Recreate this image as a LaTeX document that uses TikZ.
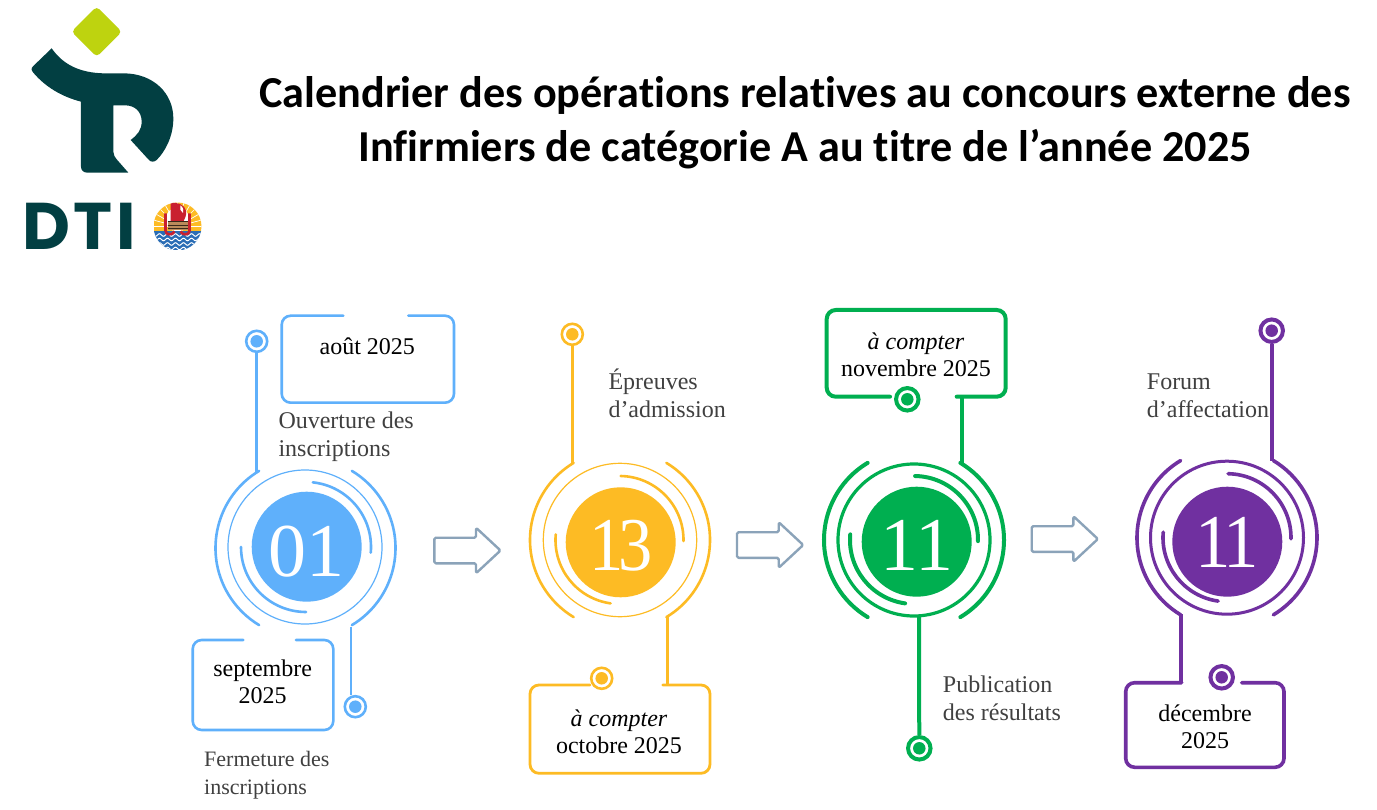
\documentclass[tikz,border=0pt]{standalone}
\usepackage{fontspec}
\setmainfont{Liberation Serif}
\newfontfamily\titlefont[Ligatures=NoCommon]{Carlito}
\newfontfamily\logofont{Poppins}
\usetikzlibrary{calc}
\definecolor{cblue}{HTML}{5FB0FB}
\definecolor{cyellow}{HTML}{FDBB24}
\definecolor{cgreen}{HTML}{00AF50}
\definecolor{cpurple}{HTML}{7030A0}
\definecolor{carrow}{HTML}{8BA3B9}
\definecolor{cteal}{HTML}{023F42}
\definecolor{clime}{HTML}{BED30F}
\definecolor{ctext}{HTML}{404040}
\definecolor{ered}{HTML}{C9202F}
\definecolor{eblue}{HTML}{2A6DB5}
\definecolor{etan}{HTML}{B98A5A}
\tikzset{
  lbl/.style={font=\fontsize{24}{27.7}\selectfont,text=ctext,align=left,inner sep=0pt,anchor=west},
  lblsm/.style={lbl,font=\fontsize{22}{27.7}\selectfont},
  boxtxt/.style={font=\fontsize{24}{26.8}\selectfont,text=black,align=center,inner sep=0pt},
  numtxt/.style={font=\fontsize{76}{76}\selectfont,text=white,inner sep=0pt,anchor=base},
  dotc/.style={circle,draw=#1,fill=white,inner sep=0pt,minimum size=21pt},
  dotl/.style={circle,draw=#1,fill=white,inner sep=0pt,minimum size=22.5pt},
  doti/.style={circle,fill=#1,inner sep=0pt,minimum size=12.5pt},
  disc/.style={circle,fill=#1,inner sep=0pt,minimum size=110pt},
  blockarrow/.style={draw=carrow,line width=2.4pt,fill=white,rounded corners=1.5pt,line join=round},
}
% top gap box: colour/width, x0,y0,x1,y1, gapL,gapR
\newcommand{\boxtopgap}[7]{\draw[#1,rounded corners=9pt,line cap=round] (#6,#3) -- (#2,#3) -- (#2,#5) -- (#4,#5) -- (#4,#3) -- (#7,#3);}
\newcommand{\boxbotgap}[7]{\draw[#1,rounded corners=9pt,line cap=round] (#6,#5) -- (#2,#5) -- (#2,#3) -- (#4,#3) -- (#4,#5) -- (#7,#5);}
% arc: style, cx, cy, r, a1, a2
\newcommand{\garc}[6]{\draw[#1,line cap=round] ([shift={(#2,#3)}]#5:#4pt) arc[start angle=#5,end angle=#6,radius=#4pt];}
% block arrow: x, yc
\newcommand{\blockarr}[2]{\draw[blockarrow] ($(#1,#2)+(0,-12.8)$) -- ($(#1,#2)+(41.7,-12.8)$) -- ($(#1,#2)+(41.7,-22.8)$) -- ($(#1,#2)+(66.2,0)$) -- ($(#1,#2)+(41.7,22.8)$) -- ($(#1,#2)+(41.7,12.8)$) -- ($(#1,#2)+(0,12.8)$) -- cycle;}
\begin{document}
\begin{tikzpicture}[x=1pt,y=-1pt]
\useasboundingbox[fill=white] (0,0) rectangle (1377,810);

% ---------- Logo ----------
\begin{scope}[x=0.33333pt,y=-0.33333pt]
\fill[cteal] (155,145) .. controls (190,195) and (240,218) .. (310,220) -- (370,220)
  .. controls (460,220) and (520,280) .. (520,355)
  .. controls (520,410) and (495,455) .. (470,480)
  .. controls (462,487) and (452,487) .. (445,478)
  -- (392,420) .. controls (412,405) and (425,390) .. (425,365)
  .. controls (425,335) and (405,316) .. (375,316) -- (340,316) -- (340,455)
  .. controls (340,465) and (345,472) .. (350,478) -- (385,518) -- (262,518)
  .. controls (250,518) and (243,510) .. (243,500) -- (243,305)
  .. controls (185,290) and (135,260) .. (100,218)
  .. controls (93,210) and (93,205) .. (100,198) -- cycle;
\end{scope}
\fill[clime,rounded corners=4pt] (96.7,6.5) -- (121.9,31.7) -- (96.7,56.9) -- (71.5,31.7) -- cycle;
\node[inner sep=0pt,anchor=base west,text=cteal,font=\logofont\bfseries\fontsize{66}{66}\selectfont] (dti) at (22,249.3) {D\kern3.5pt T\kern3.5pt I};

% ---------- Emblem ----------
\begin{scope}[shift={(177.5,226.5)}]
  \clip (0,0) circle[radius=24pt];
  \fill[cyellow] (-24,-24) rectangle (24,5);
  \foreach \a in {0,15,...,180} {\draw[white,line width=0.7pt] (\a:8pt) -- (\a:25pt);}
  \fill[white] (0,-7) circle[radius=12pt];
  \fill[eblue] (-24,5) rectangle (24,24);
  \foreach \yy in {8.5,13,17.5,22} {
    \draw[white,line width=1pt] plot[domain=-24:24,samples=49] (\x,{\yy+1.3*sin(\x*45)});
  }
  \fill[ered] (-7,-23.5) .. controls (0,-24.5) and (7,-22) .. (8.5,-16) .. controls (9.5,-11) and (7,-8) .. (6,-5) -- (-7,-5) -- cycle;
  \fill[white] (3,-21) .. controls (6,-19) and (6.5,-16) .. (5.5,-13.5) .. controls (3,-15) and (2,-18) .. (3,-21) -- cycle;
  \fill[etan] (-10,-5) rectangle (10,4);
  \draw[black!70!etan,line width=0.6pt] (-10,-5) -- (10,-5) (-10,-1.5) -- (10,-1.5) (-10,2) -- (10,2);
  \draw[ered,line width=2.6pt] (-12,-13) -- (-12,4) .. controls (-12,9) and (-5,9) .. (-3,5);
  \draw[ered,line width=2.6pt] (12,-13) -- (12,4) .. controls (12,9) and (5,9) .. (3,5);
\end{scope}

% ---------- Title ----------
\node[align=center,inner sep=0pt,text=black,font=\titlefont\bfseries\fontsize{44.2}{54}\selectfont] (title) at (805,123)
  {Calendrier des opérations relatives au concours externe des\\Infirmiers de catégorie A au titre de l’année 2025};

% ---------- Group 1 ----------
\node[disc=cblue] (n1) at (306.7,546.7) {};
\node[numtxt] (n1t) at (306,576.7) {01};
\draw[cblue,line width=1.2pt] (305,547) circle[radius=77pt];
\garc{cblue,line width=2.6pt}{305.5}{548}{90}{121}{239}
\garc{cblue,line width=2.6pt}{305.5}{548}{90}{-59}{59}
\garc{cblue,line width=2.6pt}{306}{547}{65}{-5}{84}
\garc{cblue,line width=2.6pt}{306}{547}{65}{180}{270}
\coordinate (c1a) at (256.7,471.7);
\coordinate (c1b) at (351,626.7);
\node[dotc=cblue,line width=2.6pt] (d1a) at (256.7,341.3) {};
\node[doti=cblue] (d1ai) at (256.7,341.3) {};
\node[dotc=cblue,line width=2.6pt] (d1b) at (355.3,706.7) {};
\node[doti=cblue] (d1bi) at (355.3,706.7) {};
\draw[cblue,line width=2.6pt] (d1a) -- (c1a);
\draw[cblue,line width=2.6pt] (c1b) -- (c1b |- d1b.north);
\boxtopgap{cblue,line width=2.6pt}{281.7}{315.7}{454}{402.7}{343.3}{408.3}
\boxtopgap{cblue,line width=2.6pt}{192.7}{640}{333.3}{730}{243.3}{296}
\node[boxtxt] (t1a) at (367.3,346) {août 2025};
\node[boxtxt] (t1b) at (262.7,681.5) {septembre\\2025};
\node[lbl] (l1a) at (278.3,436.7) {Ouverture des\\inscriptions};
\node[lblsm] (l1b) at (204,775) {Fermeture des\\inscriptions};

\blockarr{434.3}{550.5}

% ---------- Group 2 ----------
\node[disc=cyellow] (n2) at (620.7,542.3) {};
\node[numtxt,xscale=0.9] (n2t) at (620.7,570) {1\kern-6pt 3};
\draw[cyellow,line width=1.2pt] (620,540) circle[radius=76.7pt];
\garc{cyellow,line width=2.6pt}{620}{540}{90}{121}{239}
\garc{cyellow,line width=2.6pt}{620}{540}{90}{-59}{59}
\garc{cyellow,line width=2.6pt}{619.5}{540}{64}{-1}{89}
\garc{cyellow,line width=2.6pt}{619.5}{540}{64}{175}{262}
\coordinate (c2a) at (572.3,463.5);
\coordinate (c2b) at (667.3,616.7);
\node[dotc=cyellow,line width=2.6pt] (d2a) at (572.3,334.3) {};
\node[doti=cyellow] (d2ai) at (572.3,334.3) {};
\node[dotc=cyellow,line width=2.6pt] (d2b) at (601.7,678.3) {};
\node[doti=cyellow] (d2bi) at (601.7,678.3) {};
\draw[cyellow,line width=2.6pt] (d2a) -- (c2a);
\coordinate (e2b) at (667.3,685);
\draw[cyellow,line width=2.6pt] (c2b) -- (e2b);
\boxtopgap{cyellow,line width=2.8pt}{530}{685}{710}{773.3}{590}{662.7}
\node[boxtxt] (t2) at (619,731.5) {\itshape à compter\\octobre 2025};
\node[lbl] (l2) at (608.3,393.5) {Épreuves\\d’admission};

\blockarr{737}{545}

% ---------- Group 3 ----------
\node[disc=cgreen] (n3) at (916.7,541.7) {};
\node[numtxt] (n3t) at (916.7,570) {11};
\draw[cgreen,line width=3.2pt] (914,540) circle[radius=76pt];
\garc{cgreen,line width=4pt}{914}{540}{90}{121}{239}
\garc{cgreen,line width=4pt}{914}{540}{90}{-59}{59}
\garc{cgreen,line width=4pt}{914}{540}{64}{-1}{89}
\garc{cgreen,line width=4pt}{914}{540}{64}{175}{262}
\coordinate (c3a) at (962.3,463.3);
\coordinate (c3b) at (919,616.7);
\coordinate (e3a) at (962.3,395);
\node[dotl=cgreen,line width=4pt] (d3a) at (907.3,399.3) {};
\node[doti=cgreen] (d3ai) at (907.3,399.3) {};
\node[dotl=cgreen,line width=4pt] (d3b) at (919.3,748.3) {};
\node[doti=cgreen] (d3bi) at (919.3,748.3) {};
\draw[cgreen,line width=4pt] (c3a) -- (e3a);
\draw[cgreen,line width=4pt] (c3b) -- (d3b);
\boxbotgap{cgreen,line width=4pt}{826.7}{310}{1005.7}{396.7}{890}{956.7}
\node[boxtxt] (t3) at (916,355) {\itshape à compter\\novembre 2025};
\node[lbl] (l3) at (942.7,698.5) {Publication\\des résultats};

\blockarr{1031.7}{539}

% ---------- Group 4 ----------
\node[disc=cpurple] (n4) at (1227.3,541.7) {};
\node[numtxt,xscale=0.93] (n4t) at (1226.7,567) {1\kern-8pt 1};
\draw[cpurple,line width=3pt] (1227,537.7) circle[radius=76.5pt];
\garc{cpurple,line width=3.6pt}{1227}{537.7}{90}{121}{239}
\garc{cpurple,line width=3.6pt}{1227}{537.7}{90}{-59}{59}
\garc{cpurple,line width=3.6pt}{1227}{537.7}{64}{-1}{89}
\garc{cpurple,line width=3.6pt}{1227}{537.7}{64}{175}{262}
\coordinate (c4a) at (1271.7,460.7);
\coordinate (c4b) at (1181,614);
\coordinate (e4b) at (1181,682.7);
\node[dotl=cpurple,line width=4pt] (d4a) at (1271.7,330.7) {};
\node[doti=cpurple] (d4ai) at (1271.7,330.7) {};
\node[dotl=cpurple,line width=4pt] (d4b) at (1221.7,677.3) {};
\node[doti=cpurple] (d4bi) at (1221.7,677.3) {};
\draw[cpurple,line width=3.6pt] (d4a) -- (c4a);
\draw[cpurple,line width=3.6pt] (c4b) -- (e4b);
\boxtopgap{cpurple,line width=3.6pt}{1125.7}{682.7}{1284}{767.3}{1181.7}{1241.7}
\node[boxtxt] (t4) at (1205,726.5) {décembre\\2025};
\node[lbl] (l4) at (1146.7,396) {Forum\\d’affectation};
\end{tikzpicture}
\end{document}
